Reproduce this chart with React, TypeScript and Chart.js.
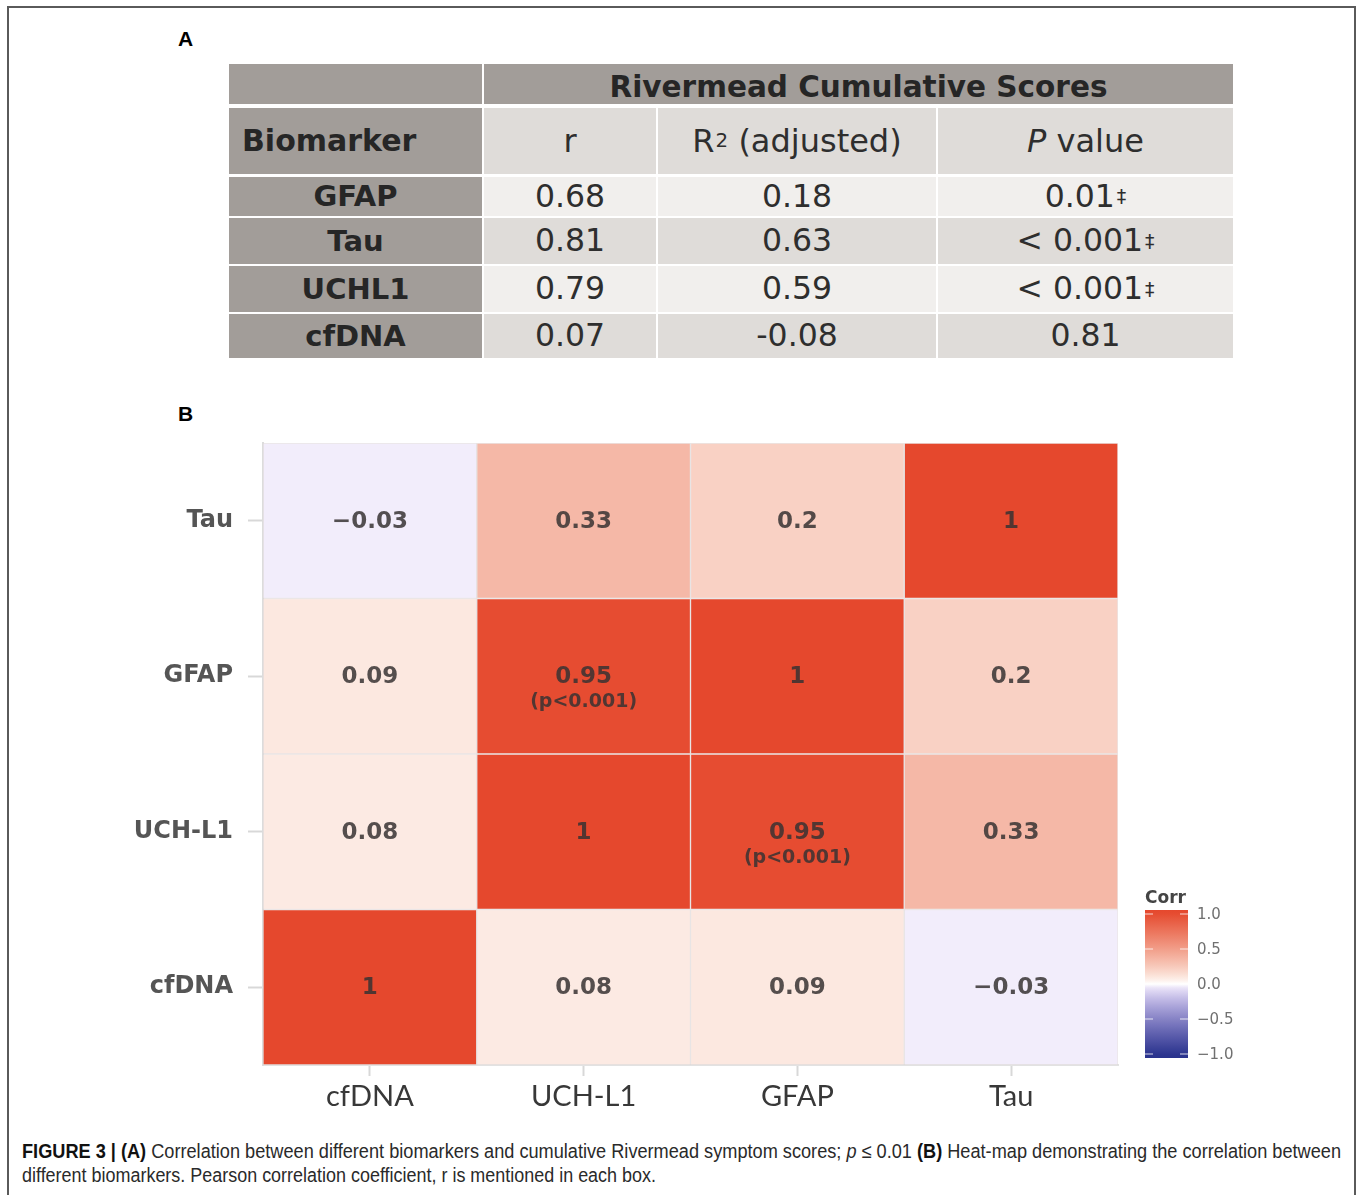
import React, { useEffect, useRef } from "react";
import { Chart, registerables } from "chart.js";

Chart.register(...registerables);

// ---------- Panel A data ----------
const tableBiomarkers = ["GFAP", "Tau", "UCHL1", "cfDNA"];
const tableR = ["0.68", "0.81", "0.79", "0.07"];
const tableR2 = ["0.18", "0.63", "0.59", "-0.08"];
const tableP = ["0.01", "< 0.001", "< 0.001", "0.81"];
const tablePSignificant = [true, true, true, false];

// ---------- Panel B data ----------
const heatCols = ["cfDNA", "UCH-L1", "GFAP", "Tau"];
const heatRows = ["cfDNA", "UCH-L1", "GFAP", "Tau"]; // bottom to top
const corrCfDNA = [1, 0.08, 0.09, -0.03];
const corrUCHL1 = [0.08, 1, 0.95, 0.33];
const corrGFAP = [0.09, 0.95, 1, 0.2];
const corrTau = [-0.03, 0.33, 0.2, 1];
const corrRows = [corrCfDNA, corrUCHL1, corrGFAP, corrTau];
const noteCfDNA = ["", "", "", ""];
const noteUCHL1 = ["", "", "(p<0.001)", ""];
const noteGFAP = ["", "(p<0.001)", "", ""];
const noteTau = ["", "", "", ""];
const noteRows = [noteCfDNA, noteUCHL1, noteGFAP, noteTau];
const colorbarTicks = [1, 0.5, 0, -0.5, -1];

const RED = [229, 72, 45];
const BLUE = [40, 50, 140];
const POS_EXPONENTS = [0.9, 0.87, 0.8];
const NEG_EXPONENTS = [0.8, 0.7, 0.95];

function corrColor(v: number): string {
  const a = Math.min(1, Math.abs(v));
  const c = v >= 0 ? RED : BLUE;
  const ex = v >= 0 ? POS_EXPONENTS : NEG_EXPONENTS;
  const m = c.map((ch, i) => {
    const t = Math.min(1, 1.02 * Math.pow(a, ex[i]));
    return Math.round(255 + (ch - 255) * t);
  });
  return `rgb(${m[0]},${m[1]},${m[2]})`;
}

function fmt(v: number): string {
  return String(v).replace("-", "\u2212");
}

const cellLabels = {
  id: "cellLabels",
  afterDatasetsDraw(chart: any) {
    const ctx = chart.ctx;
    ctx.save();
    ctx.textAlign = "center";
    ctx.textBaseline = "middle";
    chart.data.datasets.forEach((_ds: any, di: number) => {
      const meta = chart.getDatasetMeta(di);
      meta.data.forEach((bar: any, ci: number) => {
        const v = corrRows[di][ci];
        const note = noteRows[di][ci];
        const cx = bar.x;
        const cy = (bar.y + bar.base) / 2;
        ctx.fillStyle = "rgba(55,50,50,0.85)";
        ctx.font = 'bold 23px "DejaVu Sans"';
        ctx.fillText(fmt(v), cx, cy + 1);
        if (note) {
          ctx.font = 'bold 19px "DejaVu Sans"';
          ctx.fillText(note, cx, cy + 26);
        }
      });
    });
    ctx.restore();
  },
};

const colorbar = {
  id: "colorbar",
  afterDraw(chart: any) {
    const ctx = chart.ctx;
    const area = chart.chartArea;
    const x0 = area.right + 27;
    const w = 43;
    const y1 = area.bottom - 7;
    const h = 148;
    const y0 = y1 - h;
    ctx.save();
    const g = ctx.createLinearGradient(0, y0, 0, y1);
    for (let i = 0; i <= 40; i++) {
      const v = 1 - i / 20;
      g.addColorStop(i / 40, corrColor(v));
    }
    ctx.fillStyle = g;
    ctx.fillRect(x0, y0, w, h);
    ctx.font = '15px "DejaVu Sans"';
    ctx.textAlign = "left";
    ctx.textBaseline = "middle";
    colorbarTicks.forEach((t) => {
      const y = y0 + 4 + ((1 - t) / 2) * (h - 8);
      ctx.strokeStyle = "rgba(255,255,255,0.8)";
      ctx.lineWidth = 1;
      ctx.beginPath();
      ctx.moveTo(x0, y);
      ctx.lineTo(x0 + 8, y);
      ctx.moveTo(x0 + w - 8, y);
      ctx.lineTo(x0 + w, y);
      ctx.stroke();
      ctx.fillStyle = "#707070";
      ctx.fillText(t.toFixed(1).replace("-", "\u2212"), x0 + w + 9, y + 1);
    });
    ctx.fillStyle = "#444";
    ctx.font = 'bold 17px "DejaVu Sans"';
    ctx.textBaseline = "alphabetic";
    ctx.fillText("Corr", x0, y0 - 7);
    ctx.restore();
  },
};

function Heatmap() {
  const ref = useRef<HTMLCanvasElement | null>(null);
  useEffect(() => {
    if (!ref.current) return;
    const datasets = heatRows.map((row, ri) => ({
      label: row,
      data: heatCols.map(() => 1),
      backgroundColor: corrRows[ri].map(corrColor),
      borderColor: "rgba(222,216,216,0.65)",
      borderWidth: 1,
      borderSkipped: false,
      categoryPercentage: 1,
      barPercentage: 1,
    }));
    const chart = new Chart(ref.current, {
      type: "bar",
      data: { labels: heatCols, datasets },
      plugins: [cellLabels, colorbar],
      options: {
        responsive: false,
        animation: false,
        layout: { padding: { top: 13, right: 142, left: 0, bottom: 0 } },
        plugins: { legend: { display: false }, tooltip: { enabled: false } },
        scales: {
          x: {
            type: "category",
            stacked: true,
            offset: true,
            grid: {
              display: true,
              drawOnChartArea: false,
              offset: false,
              tickLength: 11,
              tickColor: "#d8d8d8",
              tickWidth: 2,
            },
            border: { display: true, color: "#e2e2e2", width: 2 },
            ticks: { font: { family: "Lato", size: 29 }, color: "#383838", padding: 3 },
            afterFit: (s: any) => {
              s.height = 55;
              s.paddingLeft = 0;
              s.paddingRight = 0;
            },
          },
          y: {
            type: "linear",
            stacked: true,
            min: 0,
            max: heatRows.length,
            afterBuildTicks: (s: any) => {
              s.ticks = heatRows.map((_r, i) => ({ value: i + 0.5 }));
            },
            ticks: {
              callback: (v: any) => heatRows[Math.floor(Number(v))],
              font: { family: "DejaVu Sans", size: 24, weight: "bold" },
              color: "#555",
              padding: 15,
            },
            grid: {
              display: true,
              drawOnChartArea: false,
              tickLength: 15,
              tickColor: "#d8d8d8",
              tickWidth: 2,
            },
            border: { display: true, color: "#dcdcdc", width: 2 },
            afterFit: (s: any) => {
              s.width = 163;
              s.paddingTop = 0;
              s.paddingBottom = 0;
            },
          },
        },
      } as any,
    });
    return () => chart.destroy();
  }, []);
  return (
    <canvas
      ref={ref}
      width={1160}
      height={690}
      style={{ position: "absolute", left: 100, top: 430, width: 1160, height: 690 }}
    />
  );
}

const DARK = "#a29d99";
const LIGHT = "#dfdcd9";
const PALE = "#f1efed";

function Cell(props: {
  x: number[];
  y: number[];
  bg: string;
  children?: any;
  align?: string;
  bold?: boolean;
  size?: number;
  padTop?: number;
}) {
  const { x, y, bg, children, align, bold, size, padTop } = props;
  return (
    <div
      style={{
        position: "absolute",
        left: x[0],
        top: y[0],
        width: x[1] - x[0],
        height: y[1] - y[0],
        background: bg,
        display: "flex",
        alignItems: "center",
        justifyContent: align === "left" ? "flex-start" : "center",
        paddingLeft: align === "left" ? 13 : 0,
        paddingTop: padTop || 0,
        boxSizing: "border-box",
        fontFamily: '"DejaVu Sans", Verdana, sans-serif',
        fontWeight: bold ? "bold" : "normal",
        fontSize: size || 31,
        color: bold ? "#262626" : "#2e2e2e",
        whiteSpace: "nowrap",
        lineHeight: 1,
      }}
    >
      {children}
    </div>
  );
}

function Table() {
  const cols = [
    [229, 482],
    [484, 656],
    [658, 936],
    [938, 1233],
  ];
  const rows = [
    [64, 104],
    [108, 174],
    [177, 216],
    [218, 264],
    [266, 312],
    [314, 358],
  ];
  const sup = { fontSize: "0.62em", verticalAlign: "0.7em", marginLeft: 1 } as any;
  const dag = { fontSize: "0.6em", verticalAlign: "0.75em", marginLeft: 2 } as any;
  const cells: any[] = [];
  cells.push(<Cell key="h0" x={cols[0]} y={rows[0]} bg={DARK} />);
  cells.push(
    <Cell key="h1" x={[cols[1][0], cols[3][1]]} y={rows[0]} bg={DARK} bold size={29.5} padTop={7}>
      Rivermead Cumulative Scores
    </Cell>
  );
  cells.push(
    <Cell key="s0" x={cols[0]} y={rows[1]} bg={DARK} bold size={30} align="left">
      Biomarker
    </Cell>
  );
  cells.push(
    <Cell key="s1" x={cols[1]} y={rows[1]} bg={LIGHT} size={32}>
      r
    </Cell>
  );
  cells.push(
    <Cell key="s2" x={cols[2]} y={rows[1]} bg={LIGHT} size={32}>
      R<span style={sup}>2</span>&nbsp;(adjusted)
    </Cell>
  );
  cells.push(
    <Cell key="s3" x={cols[3]} y={rows[1]} bg={LIGHT} size={32}>
      <i>P</i>&nbsp;value
    </Cell>
  );
  tableBiomarkers.forEach((b, i) => {
    const bg = i % 2 === 0 ? PALE : LIGHT;
    const y = rows[i + 2];
    cells.push(
      <Cell key={"b" + i} x={cols[0]} y={y} bg={DARK} bold size={29}>
        {b}
      </Cell>
    );
    cells.push(
      <Cell key={"r" + i} x={cols[1]} y={y} bg={bg} size={31.5}>
        {tableR[i]}
      </Cell>
    );
    cells.push(
      <Cell key={"q" + i} x={cols[2]} y={y} bg={bg} size={31.5}>
        {tableR2[i]}
      </Cell>
    );
    cells.push(
      <Cell key={"p" + i} x={cols[3]} y={y} bg={bg} size={31.5}>
        {tableP[i]}
        {tablePSignificant[i] ? <span style={dag}>{"\u2021"}</span> : null}
      </Cell>
    );
  });
  return <>{cells}</>;
}

export default function App() {
  useEffect(() => {
    document.body.style.margin = "0";
  }, []);
  const labelStyle: any = {
    position: "absolute",
    left: 178,
    fontFamily: '"Liberation Sans", Arial, sans-serif',
    fontWeight: "bold",
    fontSize: 21,
    lineHeight: 1,
    color: "#000",
  };
  return (
    <div
      style={{
        position: "absolute",
        left: 0,
        top: 0,
        width: 1357,
        height: 1195,
        overflow: "hidden",
        background: "#fff",
      }}
    >
      <div
        style={{
          position: "absolute",
          left: 7,
          top: 6,
          width: 1349,
          height: 1189,
          boxSizing: "border-box",
          borderLeft: "2px solid #5a5a5a",
          borderTop: "2px solid #5a5a5a",
          borderRight: "2px solid #5a5a5a",
        }}
      />
      <div style={{ ...labelStyle, top: 28 }}>A</div>
      <div style={{ ...labelStyle, top: 403 }}>B</div>
      <Table />
      <Heatmap />
      <svg
        width={1357}
        height={65}
        style={{ position: "absolute", left: 0, top: 1130 }}
      >
        <text
          x={22}
          y={28}
          textLength={1319}
          lengthAdjust="spacingAndGlyphs"
          fontFamily="Liberation Sans, Arial, sans-serif"
          fontSize={20}
          fill="#2a2a2a"
        >
          <tspan fontWeight="bold" fill="#111">{"FIGURE 3 | (A)"}</tspan>
          {" Correlation between different biomarkers and cumulative Rivermead symptom scores; "}
          <tspan fontStyle="italic">p</tspan>
          {" \u2264 0.01 "}
          <tspan fontWeight="bold" fill="#111">{"(B)"}</tspan>
          {" Heat-map demonstrating the correlation between"}
        </text>
        <text
          x={22}
          y={52}
          textLength={634}
          lengthAdjust="spacingAndGlyphs"
          fontFamily="Liberation Sans, Arial, sans-serif"
          fontSize={20}
          fill="#2a2a2a"
        >
          {"different biomarkers. Pearson correlation coefficient, r is mentioned in each box."}
        </text>
      </svg>
    </div>
  );
}
